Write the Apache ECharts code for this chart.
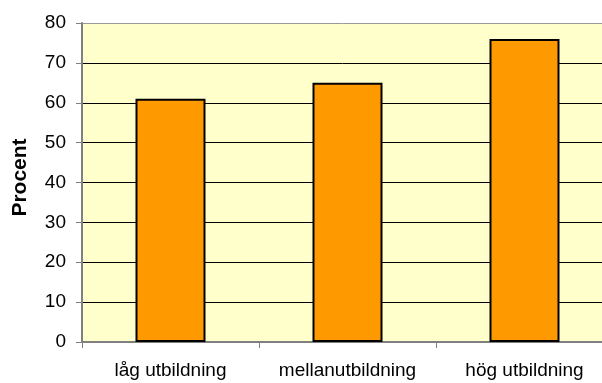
<!DOCTYPE html>
<html><head><meta charset="utf-8">
<script src="https://cdn.jsdelivr.net/npm/echarts@6/dist/echarts.min.js"></script>
<style>html,body{margin:0;padding:0;background:#fff}#c{width:602px;height:383px}</style>
</head><body><div id="c"></div>
<script>
const categories = ['låg utbildning', 'mellanutbildning', 'hög utbildning'];
const values = [61, 65, 76];
const yTicks = { min: 0, max: 80, interval: 10 };
const yName = 'Procent';

const chart = echarts.init(document.getElementById('c'), null, { renderer: 'canvas' });
chart.setOption({
  animation: false,
  backgroundColor: '#ffffff',
  grid: { left: 82, top: 23, width: 531, height: 319, outerBoundsMode: 'none', containLabel: false,
          show: true, backgroundColor: '#FFFFCC', borderWidth: 0 },
  xAxis: {
    type: 'category', data: categories,
    axisLine: { lineStyle: { color: '#808080', width: 2 } },
    axisTick: { show: true, length: 6, alignWithLabel: false, lineStyle: { color: '#808080' } },
    axisLabel: { color: '#000', fontFamily: 'Liberation Sans', fontSize: 19, margin: 19, interval: 0 }
  },
  yAxis: {
    type: 'value', min: yTicks.min, max: yTicks.max, interval: yTicks.interval,
    name: yName, nameLocation: 'middle', nameGap: 51,
    nameTextStyle: { fontFamily: 'Liberation Sans', fontSize: 21, fontWeight: 'bold', color: '#000', padding: [0, 0, 0, 10] },
    axisLine: { show: true, lineStyle: { color: '#808080', width: 2 } },
    axisTick: { show: true, length: 6, lineStyle: { color: '#808080' } },
    axisLabel: { color: '#000', fontFamily: 'Liberation Sans', fontSize: 19, margin: 16 },
    splitLine: { show: true, lineStyle: { color: ['#000','#000','#000','#000','#000','#000','#000','#000','#999'], width: 1 } }
  },
  series: [{
    type: 'bar', data: values, barWidth: 70,
    itemStyle: { color: '#FF9900', borderColor: '#000', borderWidth: 2 }
  }]
});
</script></body></html>
